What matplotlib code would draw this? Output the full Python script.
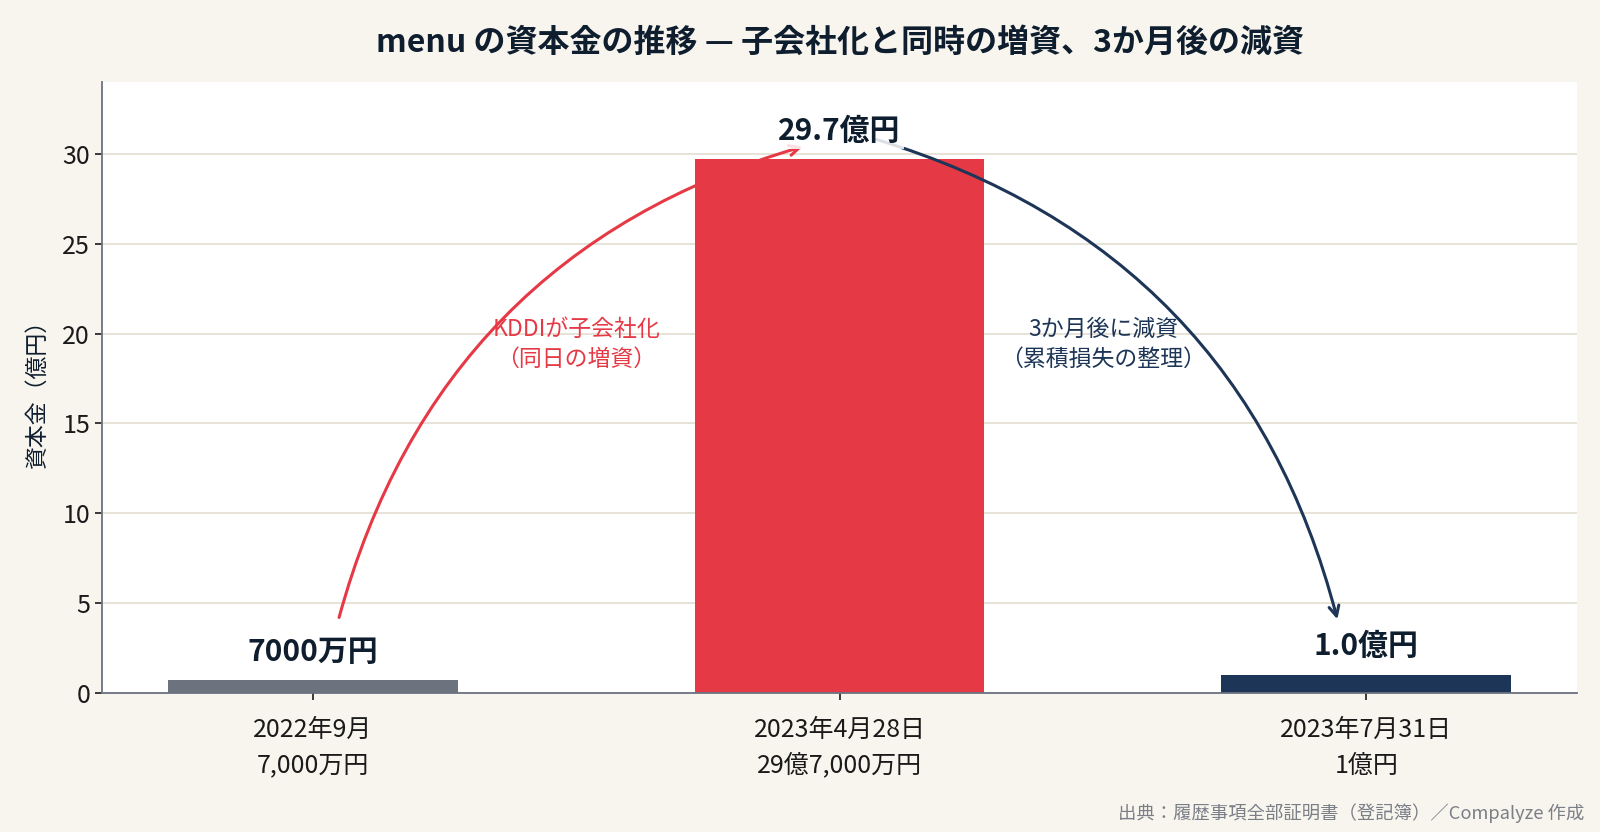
import matplotlib
matplotlib.use('Agg')
import matplotlib.pyplot as plt

plt.rcParams['font.family'] = ['Noto Sans CJK JP', 'DejaVu Sans']

# データ
dates = ['2022年9月', '2023年4月28日', '2023年7月31日']
amount_text = ['7,000万円', '29億7,000万円', '1億円']
capital = [0.7, 29.7, 1.0]  # 億円
bar_labels = ['7000万円', '29.7億円', '1.0億円']
bar_colors = ['#6C737E', '#E63946', '#1D3557']
notes = ['KDDIが子会社化\n（同日の増資）', '3か月後に減資\n（累積損失の整理）']

BG = '#F8F5EE'
INK = '#0F1E2E'

fig = plt.figure(figsize=(16, 8.32), dpi=100, facecolor=BG)
ax = fig.add_axes([0.06375, 0.1671, 0.9219, 0.7344])
ax.set_facecolor('white')

x = list(range(len(capital)))
ax.bar(x, capital, width=0.55, color=bar_colors, zorder=2)

ax.set_xlim(-0.4, 2.4)
ax.set_ylim(0, 34)
ax.set_yticks([0, 5, 10, 15, 20, 25, 30])
ax.set_xticks(x)
ax.set_xticklabels([d + '\n' + a for d, a in zip(dates, amount_text)],
                   linespacing=1.5)
ax.tick_params(axis='both', labelsize=18, colors='#1a1a1a', length=5, width=1.2)
ax.tick_params(axis='x', pad=12)
ax.grid(axis='y', color='#E6E1D6', linewidth=1.3, zorder=0)
ax.set_axisbelow(True)
for s in ['top', 'right']:
    ax.spines[s].set_visible(False)
for s in ['left', 'bottom']:
    ax.spines[s].set_color('#6B7280')
    ax.spines[s].set_linewidth(1.3)

ax.set_ylabel('資本金（億円）', fontsize=16.5, color=INK, labelpad=10)

# 値ラベル
for xi, v, lab in zip(x, capital, bar_labels):
    ax.text(xi, v + 1.6, lab, ha='center', va='center', fontsize=21.5,
            fontweight='bold', color=INK, zorder=5,
            bbox=dict(boxstyle='square,pad=0.12', fc='white', ec='none', alpha=0.85))

# 矢印
ax.annotate('', xy=(x[1] - 0.07, capital[1] + 0.7), xytext=(x[0] + 0.05, capital[0] + 3.5),
            arrowprops=dict(arrowstyle='->', color=bar_colors[1], lw=2.2,
                            connectionstyle='arc3,rad=-0.28', shrinkA=0, shrinkB=0,
                            mutation_scale=18),
            zorder=3)
ax.annotate('', xy=(x[2] - 0.055, capital[2] + 3.1), xytext=(x[1] + 0.07, capital[1] + 1.1),
            arrowprops=dict(arrowstyle='->', color=bar_colors[2], lw=2.2,
                            connectionstyle='arc3,rad=-0.28', shrinkA=0, shrinkB=0,
                            mutation_scale=18),
            zorder=3)

ax.text(0.5, 19.4, notes[0], ha='center', va='center', fontsize=16.5,
        color=bar_colors[1], linespacing=1.4, zorder=4)
ax.text(1.5, 19.4, notes[1], ha='center', va='center', fontsize=16.5,
        color=bar_colors[2], linespacing=1.4, zorder=4)

fig.text(839.5 / 1600, 1 - 43 / 832, 'menu の資本金の推移 — 子会社化と同時の増資、3か月後の減資',
         ha='center', va='center', fontsize=23, fontweight='bold', color=INK)
fig.text(1584 / 1600, 1 - 813 / 832, '出典：履歴事項全部証明書（登記簿）／Compalyze 作成',
         ha='right', va='center', fontsize=13.2, color='#7A7F87')

fig.savefig('out.png', dpi=100, facecolor=BG)
